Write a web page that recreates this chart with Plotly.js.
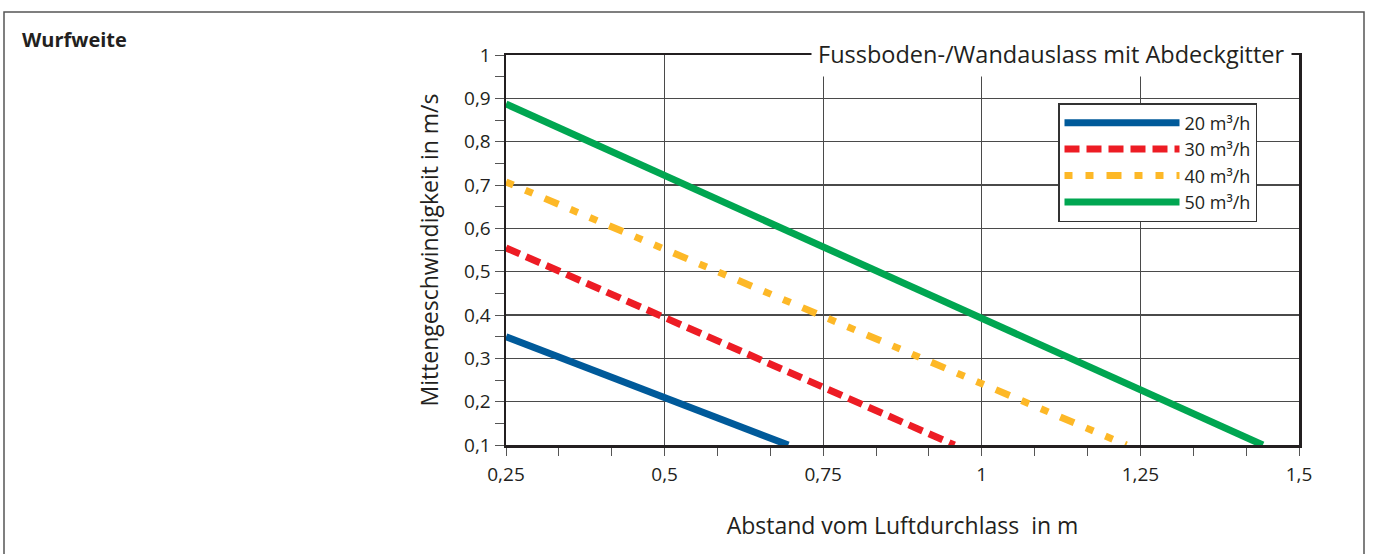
<!DOCTYPE html>
<html>
<head>
<meta charset="utf-8">
<script src="https://cdn.plot.ly/plotly-3.0.1.min.js"></script>
<style>
  html, body { margin: 0; padding: 0; background: #fff; }
  #chart { width: 1373px; height: 554px; }
</style>
</head>
<body>
<div id="chart"></div>
<script>
// ---- Data ----
const seriesNames = ['20 m³/h', '30 m³/h', '40 m³/h', '50 m³/h'];
const dist20 = [0.25, 0.695];
const vel20  = [0.35, 0.10];
const dist30 = [0.25, 0.957];
const vel30  = [0.555, 0.10];
const dist40 = [0.25, 1.228];
const vel40  = [0.707, 0.10];
const dist50 = [0.25, 1.443];
const vel50  = [0.887, 0.10];

const xTickVals = [0.25, 0.5, 0.75, 1, 1.25, 1.5];
const yTickVals = [0.1, 0.2, 0.3, 0.4, 0.5, 0.6, 0.7, 0.8, 0.9, 1];

const chartTitle = 'Fussboden-/Wandauslass mit Abdeckgitter';
const panelLabel = 'Wurfweite';
const xTitle = 'Abstand vom Luftdurchlass\u00a0 in m';
const yTitle = 'Mittengeschwindigkeit in m/s';

// ---- Styles ----
const FONT = '"Open Sans", "Noto Sans", sans-serif';
const TXT = '#231f20';
const colors = ['#005a9a', '#ed1c24', '#fdb827', '#00a651'];
const dashes = ['solid', '15px,7px', '8px,13px,8px,13px,15px,13px', 'solid'];
const xs = [dist20, dist30, dist40, dist50];
const ys = [vel20, vel30, vel40, vel50];

const traces = seriesNames.map((name, i) => ({
  type: 'scatter',
  mode: 'lines',
  name: name,
  x: xs[i],
  y: ys[i],
  line: { color: colors[i], width: 7, dash: dashes[i] },
  hoverinfo: 'x+y+name'
}));

// plot-area geometry helpers (paper coords)
const L = 506, R = 74, T = 55, B = 109, W = 1373, H = 554;
const PW = W - L - R, PH = H - T - B;
const px = v => (v - L) / PW;
const py = v => (H - B - v) / PH;

const layout = {
  width: W,
  height: H,
  margin: { l: L, r: R, t: T, b: B, pad: 0 },
  paper_bgcolor: '#ffffff',
  plot_bgcolor: '#ffffff',
  separators: ',.',
  font: { family: FONT, color: TXT, size: 19 },
  showlegend: true,
  legend: {
    x: px(1058), y: py(103),
    xanchor: 'left', yanchor: 'top',
    bgcolor: '#ffffff',
    bordercolor: '#333333',
    borderwidth: 1.5,
    itemwidth: 115,
    font: { family: FONT, size: 18, color: TXT },
    tracegroupgap: 0
  },
  xaxis: {
    range: [0.25, 1.5],
    tickvals: xTickVals,
    showgrid: true,
    gridcolor: '#4a4a4a',
    gridwidth: 1.2,
    showline: true,
    linecolor: '#231f20',
    linewidth: 2.5,
    mirror: true,
    ticks: 'outside',
    ticklen: 8,
    tickwidth: 1,
    tickcolor: '#555',
    ticklabelstandoff: 3,
    tickfont: { family: FONT, size: 19, color: TXT },
    minor: { dtick: 0.25 / 3, ticks: 'outside', ticklen: 8, tickwidth: 1, tickcolor: '#555', showgrid: false },
    zeroline: false,
    automargin: false,
    title: { text: xTitle, standoff: 32, font: { family: FONT, size: 23, color: TXT } }
  },
  yaxis: {
    range: [0.1, 1],
    tickvals: yTickVals,
    showgrid: true,
    gridcolor: '#4a4a4a',
    gridwidth: 1.2,
    showline: true,
    linecolor: '#231f20',
    linewidth: 2.5,
    mirror: true,
    ticks: 'outside',
    ticklen: 9,
    tickwidth: 1,
    tickcolor: '#555',
    ticklabelstandoff: 0,
    tickfont: { family: FONT, size: 19, color: TXT },
    minor: { dtick: 0.05, ticks: 'outside', ticklen: 9, tickwidth: 1, tickcolor: '#555', showgrid: false },
    zeroline: false,
    automargin: false,
    title: { text: yTitle, standoff: 19, font: { family: FONT, size: 23, color: TXT } }
  },
  shapes: [
    { type: 'rect', xref: 'paper', yref: 'paper', layer: 'below',
      x0: px(4), x1: px(1364), y0: py(575), y1: py(12),
      line: { color: '#555555', width: 1.5 }, fillcolor: 'rgba(0,0,0,0)' }
  ],
  annotations: [
    { text: panelLabel, xref: 'paper', yref: 'paper', x: px(20), y: py(40),
      xanchor: 'left', yanchor: 'middle', showarrow: false,
      font: { family: FONT, size: 20, color: TXT, weight: 'bold' } },
    { text: chartTitle, xref: 'paper', yref: 'paper', x: px(1051), y: py(54),
      xanchor: 'center', yanchor: 'middle', showarrow: false,
      bgcolor: '#ffffff', borderpad: 6,
      font: { family: FONT, size: 23.5, color: TXT } }
  ]
};

Plotly.newPlot('chart', traces, layout, { displayModeBar: false, staticPlot: true });
</script>
</body>
</html>
